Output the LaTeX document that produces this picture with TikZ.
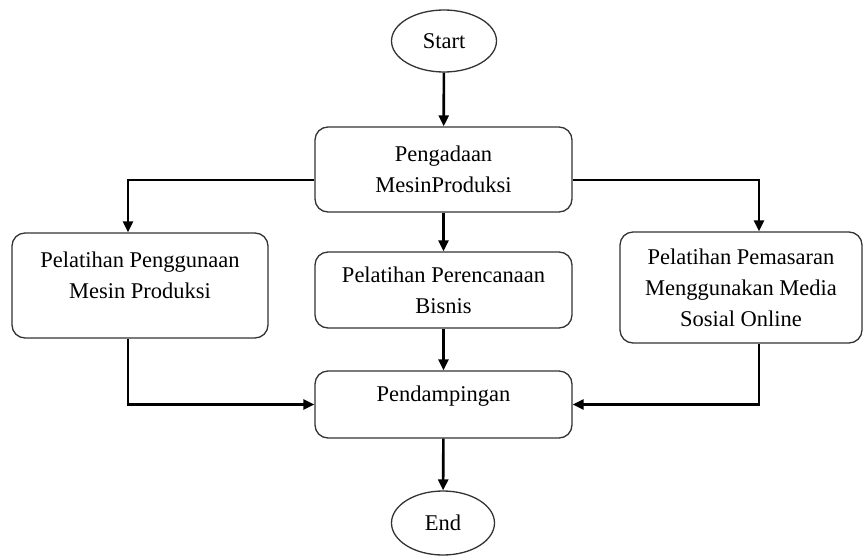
\documentclass[tikz,border=0pt]{standalone}
\usepackage{fontspec}
\setmainfont{Liberation Serif}
\usetikzlibrary{arrows.meta,shapes.geometric}
\begin{document}
\begin{tikzpicture}[x=1pt,y=-1pt,
  box/.style={draw=black!80,line width=1.3pt,rounded corners=13pt,align=center,inner sep=0pt,
    font=\fontsize{22.5}{31}\selectfont},
  oval/.style={draw=black!80,line width=1.3pt,ellipse,inner sep=0pt,font=\fontsize{22.5}{27}\selectfont},
  conn/.style={line width=2.6pt,-{Triangle[length=11pt,width=10pt]}}]
\useasboundingbox (0,0) rectangle (864,557);
\node[oval,minimum width=105pt,minimum height=62pt] (start) at (444,41) {Start};
\node[box,minimum width=257pt,minimum height=85pt] (proc) at (443.5,169.5) {Pengadaan\\MesinProduksi};
\node[box,minimum width=256pt,minimum height=105pt,text depth=20pt] (left) at (140,285.5) {Pelatihan Penggunaan\\Mesin Produksi};
\node[box,minimum width=257pt,minimum height=76pt] (mid) at (443.5,290) {Pelatihan Perencanaan\\Bisnis};
\node[box,minimum width=242pt,minimum height=111pt] (right) at (741,287.5) {Pelatihan Pemasaran\\Menggunakan Media\\Sosial Online};
\node[box,minimum width=257pt,minimum height=67pt,text depth=21pt] (pend) at (443.5,404.5) {Pendampingan};
\node[oval,minimum width=103pt,minimum height=64pt] (end) at (443,523) {End};
\draw[conn] (start) -- (proc);
\draw[conn] (proc) -- (mid);
\draw[conn] (mid) -- (pend);
\draw[conn] (pend) -- (end);
\draw[conn] ([yshift=-10.5pt]proc.west) -| ([xshift=-12pt]left.north);
\draw[conn] ([yshift=-10.5pt]proc.east) -| ([xshift=18pt]right.north);
\draw[conn] ([xshift=-12pt]left.south) |- (pend.west);
\draw[conn] ([xshift=18pt]right.south) |- (pend.east);
\end{tikzpicture}
\end{document}
